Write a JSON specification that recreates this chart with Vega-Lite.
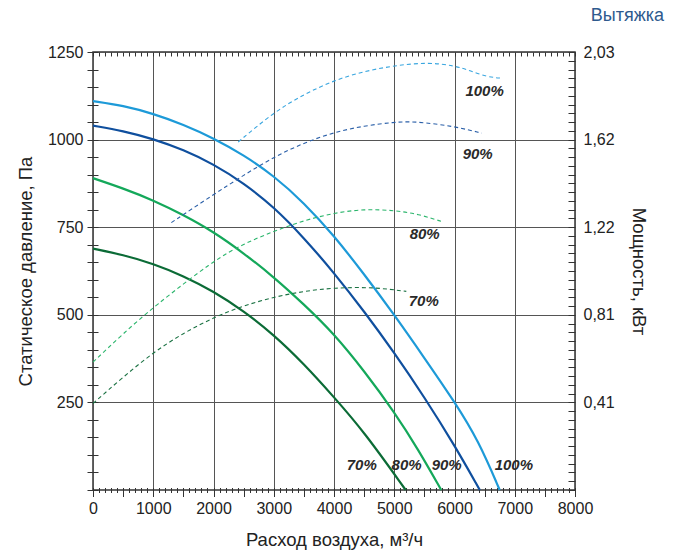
{
  "$schema": "https://vega.github.io/schema/vega-lite/v6.json",
  "width": 482,
  "height": 438,
  "autosize": {"type": "none"},
  "padding": {"left": 93, "top": 52, "right": 103, "bottom": 62},
  "background": "white",
  "title": {"text": "Вытяжка", "anchor": "end", "frame": "group", "dx": 89, "offset": 19, "fontSize": 18, "fontWeight": "normal", "color": "#2e5a8e", "font": "Liberation Sans"},
  "config": {
    "view": {"stroke": "#333333", "strokeWidth": 1.5},
    "font": "Liberation Sans",
    "axis": {"labelFont": "Liberation Sans", "titleFont": "Liberation Sans", "labelFontSize": 16, "titleFontSize": 18.5, "labelColor": "#222222", "titleColor": "#222222", "titleFontWeight": "normal", "domain": false, "gridColor": "#555555", "gridWidth": 1, "gridOpacity": 1, "tickColor": "#333333", "tickWidth": 1}
  },
  "datasets": {
    "pressure": [
      {"flow": 0, "p": 1110, "speed": "100%"}, {"flow": 500, "p": 1097, "speed": "100%"}, {"flow": 1000, "p": 1074, "speed": "100%"}, {"flow": 1500, "p": 1043, "speed": "100%"}, {"flow": 2000, "p": 1004, "speed": "100%"}, {"flow": 2500, "p": 956, "speed": "100%"}, {"flow": 3000, "p": 897, "speed": "100%"}, {"flow": 3500, "p": 820, "speed": "100%"}, {"flow": 4000, "p": 726, "speed": "100%"}, {"flow": 4500, "p": 616, "speed": "100%"}, {"flow": 5000, "p": 500, "speed": "100%"}, {"flow": 5500, "p": 377, "speed": "100%"}, {"flow": 6000, "p": 252, "speed": "100%"}, {"flow": 6400, "p": 140, "speed": "100%"}, {"flow": 6750, "p": 0, "speed": "100%"},
      {"flow": 0, "p": 1040, "speed": "90%"}, {"flow": 500, "p": 1025, "speed": "90%"}, {"flow": 1000, "p": 1002, "speed": "90%"}, {"flow": 1500, "p": 971, "speed": "90%"}, {"flow": 2000, "p": 930, "speed": "90%"}, {"flow": 2500, "p": 876, "speed": "90%"}, {"flow": 3000, "p": 808, "speed": "90%"}, {"flow": 3500, "p": 720, "speed": "90%"}, {"flow": 4000, "p": 620, "speed": "90%"}, {"flow": 4500, "p": 510, "speed": "90%"}, {"flow": 5000, "p": 392, "speed": "90%"}, {"flow": 5500, "p": 265, "speed": "90%"}, {"flow": 6000, "p": 128, "speed": "90%"}, {"flow": 6420, "p": 0, "speed": "90%"},
      {"flow": 0, "p": 890, "speed": "80%"}, {"flow": 500, "p": 861, "speed": "80%"}, {"flow": 1000, "p": 827, "speed": "80%"}, {"flow": 1500, "p": 785, "speed": "80%"}, {"flow": 2000, "p": 737, "speed": "80%"}, {"flow": 2500, "p": 676, "speed": "80%"}, {"flow": 3000, "p": 608, "speed": "80%"}, {"flow": 3500, "p": 530, "speed": "80%"}, {"flow": 4000, "p": 446, "speed": "80%"}, {"flow": 4500, "p": 340, "speed": "80%"}, {"flow": 5000, "p": 223, "speed": "80%"}, {"flow": 5400, "p": 115, "speed": "80%"}, {"flow": 5780, "p": 0, "speed": "80%"},
      {"flow": 0, "p": 689, "speed": "70%"}, {"flow": 500, "p": 671, "speed": "70%"}, {"flow": 1000, "p": 646, "speed": "70%"}, {"flow": 1500, "p": 611, "speed": "70%"}, {"flow": 2000, "p": 567, "speed": "70%"}, {"flow": 2500, "p": 511, "speed": "70%"}, {"flow": 3000, "p": 443, "speed": "70%"}, {"flow": 3500, "p": 360, "speed": "70%"}, {"flow": 4000, "p": 265, "speed": "70%"}, {"flow": 4500, "p": 166, "speed": "70%"}, {"flow": 5190, "p": 0, "speed": "70%"}
    ],
    "power": [
      {"flow": 2410, "kw": 1.614, "speed": "100%"}, {"flow": 3000, "kw": 1.752, "speed": "100%"}, {"flow": 3500, "kw": 1.835, "speed": "100%"}, {"flow": 4000, "kw": 1.9, "speed": "100%"}, {"flow": 4500, "kw": 1.942, "speed": "100%"}, {"flow": 5000, "kw": 1.968, "speed": "100%"}, {"flow": 5550, "kw": 1.984, "speed": "100%"}, {"flow": 6000, "kw": 1.968, "speed": "100%"}, {"flow": 6250, "kw": 1.945, "speed": "100%"}, {"flow": 6550, "kw": 1.915, "speed": "100%"}, {"flow": 6780, "kw": 1.91, "speed": "100%"},
      {"flow": 1300, "kw": 1.24, "speed": "90%"}, {"flow": 2000, "kw": 1.37, "speed": "90%"}, {"flow": 2500, "kw": 1.46, "speed": "90%"}, {"flow": 3000, "kw": 1.544, "speed": "90%"}, {"flow": 3500, "kw": 1.61, "speed": "90%"}, {"flow": 4000, "kw": 1.659, "speed": "90%"}, {"flow": 4500, "kw": 1.689, "speed": "90%"}, {"flow": 5000, "kw": 1.706, "speed": "90%"}, {"flow": 5330, "kw": 1.71, "speed": "90%"}, {"flow": 6000, "kw": 1.687, "speed": "90%"}, {"flow": 6450, "kw": 1.655, "speed": "90%"},
      {"flow": 0, "kw": 0.593, "speed": "80%"}, {"flow": 500, "kw": 0.725, "speed": "80%"}, {"flow": 1000, "kw": 0.848, "speed": "80%"}, {"flow": 2000, "kw": 1.064, "speed": "80%"}, {"flow": 2500, "kw": 1.142, "speed": "80%"}, {"flow": 3000, "kw": 1.2, "speed": "80%"}, {"flow": 3500, "kw": 1.25, "speed": "80%"}, {"flow": 4000, "kw": 1.285, "speed": "80%"}, {"flow": 4500, "kw": 1.303, "speed": "80%"}, {"flow": 5000, "kw": 1.297, "speed": "80%"}, {"flow": 5400, "kw": 1.28, "speed": "80%"}, {"flow": 5810, "kw": 1.243, "speed": "80%"},
      {"flow": 0, "kw": 0.401, "speed": "70%"}, {"flow": 500, "kw": 0.524, "speed": "70%"}, {"flow": 1000, "kw": 0.638, "speed": "70%"}, {"flow": 1500, "kw": 0.728, "speed": "70%"}, {"flow": 2000, "kw": 0.8, "speed": "70%"}, {"flow": 2500, "kw": 0.855, "speed": "70%"}, {"flow": 3000, "kw": 0.895, "speed": "70%"}, {"flow": 3500, "kw": 0.922, "speed": "70%"}, {"flow": 4000, "kw": 0.938, "speed": "70%"}, {"flow": 4650, "kw": 0.941, "speed": "70%"}, {"flow": 5200, "kw": 0.921, "speed": "70%"}
    ],
    "toplabels": [
      {"flow": 6500, "p": 1140, "label": "100%"},
      {"flow": 6385, "p": 960, "label": "90%"},
      {"flow": 5505, "p": 730, "label": "80%"},
      {"flow": 5490, "p": 540, "label": "70%"}
    ],
    "bottomlabels": [
      {"flow": 4460, "p": 70, "label": "70%"},
      {"flow": 5205, "p": 70, "label": "80%"},
      {"flow": 5870, "p": 70, "label": "90%"},
      {"flow": 6985, "p": 70, "label": "100%"}
    ]
  },
  "layer": [
    {
      "data": {"name": "pressure"},
      "mark": {"type": "line", "interpolate": "basis", "strokeWidth": 2.2},
      "encoding": {
        "x": {"field": "flow", "type": "quantitative", "scale": {"domain": [0, 8000], "nice": false},
          "axis": {"orient": "bottom", "values": [0, 1000, 2000, 3000, 4000, 5000, 6000, 7000, 8000], "format": "d", "grid": true, "ticks": false, "labelPadding": 10, "labelFlush": false, "title": "Расход воздуха, м³/ч", "titlePadding": 14}},
        "y": {"field": "p", "type": "quantitative", "scale": {"domain": [0, 1250], "nice": false},
          "axis": {"orient": "left", "values": [250, 500, 750, 1000, 1250], "format": "d", "grid": true, "ticks": false, "labelPadding": 10, "title": "Статическое давление, Па", "titlePadding": 12}},
        "color": {"field": "speed", "type": "nominal", "scale": {"domain": ["70%", "80%", "90%", "100%"], "range": ["#0b6b36", "#14a85a", "#0f4f9e", "#1d9ad8"]}, "legend": null}
      }
    },
    {
      "data": {"name": "power"},
      "mark": {"type": "line", "interpolate": "basis", "strokeWidth": 1.1, "strokeDash": [4, 3]},
      "encoding": {
        "x": {"field": "flow", "type": "quantitative", "scale": {"domain": [0, 8000], "nice": false},
          "axis": {"orient": "bottom", "values": [0,100,200,300,400,500,600,700,800,900,1000,1100,1200,1300,1400,1500,1600,1700,1800,1900,2000,2100,2200,2300,2400,2500,2600,2700,2800,2900,3000,3100,3200,3300,3400,3500,3600,3700,3800,3900,4000,4100,4200,4300,4400,4500,4600,4700,4800,4900,5000,5100,5200,5300,5400,5500,5600,5700,5800,5900,6000,6100,6200,6300,6400,6500,6600,6700,6800,6900,7000,7100,7200,7300,7400,7500,7600,7700,7800,7900,8000], "labels": false, "grid": false, "ticks": true, "tickSize": 5, "offset": -2.5, "title": null}},
        "y": {"field": "kw", "type": "quantitative", "scale": {"domain": [0, 2.03125], "nice": false, "zero": true},
          "axis": {"orient": "right", "values": [0.40625, 0.8125, 1.21875, 1.625, 2.03125], "grid": false, "ticks": false, "labelPadding": 8, "labelExpr": "replace(format(datum.value - 0.001, '.2f'), '.', ',')", "title": "Мощность, кВт", "titlePadding": 14}},
        "color": {"field": "speed", "type": "nominal", "scale": {"domain": ["70%", "80%", "90%", "100%"], "range": ["#1b7243", "#2bb56c", "#2a5fa8", "#3aa6df"]}, "legend": null}
      }
    },
    {
      "data": {"name": "toplabels"},
      "mark": {"type": "text", "fontSize": 15, "fontWeight": "bold", "fontStyle": "italic", "color": "#2a2a2a", "font": "Liberation Sans"},
      "encoding": {
        "x": {"field": "flow", "type": "quantitative", "scale": {"domain": [0, 8000], "nice": false},
          "axis": {"orient": "top", "values": [0,100,200,300,400,500,600,700,800,900,1000,1100,1200,1300,1400,1500,1600,1700,1800,1900,2000,2100,2200,2300,2400,2500,2600,2700,2800,2900,3000,3100,3200,3300,3400,3500,3600,3700,3800,3900,4000,4100,4200,4300,4400,4500,4600,4700,4800,4900,5000,5100,5200,5300,5400,5500,5600,5700,5800,5900,6000,6100,6200,6300,6400,6500,6600,6700,6800,6900,7000,7100,7200,7300,7400,7500,7600,7700,7800,7900,8000], "labels": false, "grid": false, "tickSize": 4, "offset": -4, "title": null}},
        "y": {"field": "p", "type": "quantitative", "scale": {"domain": [0, 1250], "nice": false},
          "axis": {"orient": "left", "values": [0,50,100,150,200,250,300,350,400,450,500,550,600,650,700,750,800,850,900,950,1000,1050,1100,1150,1200,1250], "labels": false, "grid": false, "tickSize": 11, "offset": -5, "title": null}},
        "text": {"field": "label"}
      }
    },
    {
      "data": {"name": "bottomlabels"},
      "mark": {"type": "text", "fontSize": 15, "fontWeight": "bold", "fontStyle": "italic", "color": "#2a2a2a", "font": "Liberation Sans"},
      "encoding": {
        "x": {"field": "flow", "type": "quantitative", "scale": {"domain": [0, 8000], "nice": false},
          "axis": {"orient": "bottom", "values": [0,500,1000,1500,2000,2500,3000,3500,4000,4500,5000,5500,6000,6500,7000,7500,8000], "labels": false, "grid": false, "tickSize": 9, "offset": -2.5, "title": null}},
        "y": {"field": "p", "type": "quantitative", "scale": {"domain": [0, 1250], "nice": false},
          "axis": {"orient": "right", "values": [0,25,50,75,100,125,150,175,200,225,250,275,300,325,350,375,400,425,450,475,500,525,550,575,600,625,650,675,700,725,750,775,800,825,850,875,900,925,950,975,1000,1025,1050,1075,1100,1125,1150,1175,1200,1225,1250], "labels": false, "grid": false, "tickSize": 7, "offset": -7, "title": null}},
        "text": {"field": "label"}
      }
    }
  ],
  "resolve": {"scale": {"y": "independent", "color": "independent"}, "axis": {"x": "independent", "y": "independent"}}
}
